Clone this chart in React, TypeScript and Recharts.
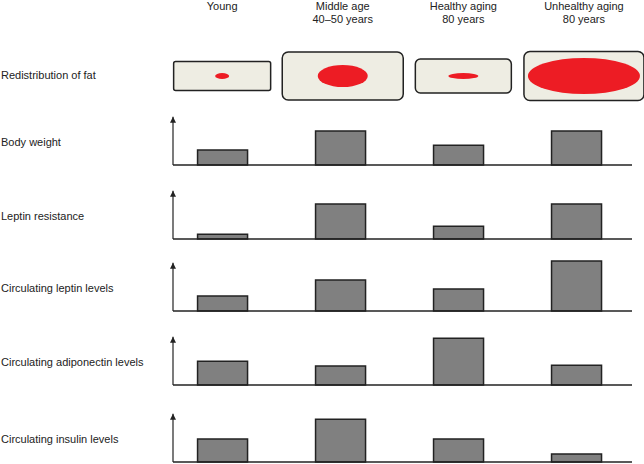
import { BarChart, Bar, XAxis, YAxis, ReferenceLine, ScatterChart, Scatter } from "recharts";

const stages = ["Young", "Middle age\n40–50 years", "Healthy aging\n80 years", "Unhealthy aging\n80 years"];

// fat depot schematic: tissue box and fat ellipse size per stage (arbitrary units)
const tissueWidth = [97, 121, 96, 120];
const tissueHeight = [29, 48, 34, 49];
const fatWidth = [14, 50, 30, 112];
const fatHeight = [6, 22, 6, 36];

const rowLabels = [
  "Body weight",
  "Leptin resistance",
  "Circulating leptin levels",
  "Circulating adiponectin levels",
  "Circulating insulin levels",
];
const bodyWeight = [3.4, 7.7, 4.5, 7.7];
const leptinResistance = [1.1, 7.9, 2.9, 7.9];
const leptinLevels = [3.4, 7.0, 5.0, 11.3];
const adiponectinLevels = [5.4, 4.3, 10.6, 4.5];
const insulinLevels = [5.2, 9.7, 5.2, 1.8];
const rowValues = [bodyWeight, leptinResistance, leptinLevels, adiponectinLevels, insulinLevels];

const ARROW_TOP = 10.9;
const X_MIN = -0.42;
const X_MAX = 3.47;
const rowTops = [106, 180, 252, 326, 403];
const ink = "#222";

const fatData = stages.map((s, i) => ({
  idx: i,
  row: "fat",
  tw: tissueWidth[i],
  th: tissueHeight[i],
  fw: fatWidth[i],
  fh: fatHeight[i],
}));

function FatDepot(props: any) {
  const { cx, cy, payload } = props;
  const r = payload.th > 40 ? 6 : payload.th > 30 ? 5 : 2;
  return (
    <g>
      <rect
        x={cx - payload.tw / 2}
        y={cy - payload.th / 2}
        width={payload.tw}
        height={payload.th}
        rx={r}
        fill="#eeede3"
        stroke={ink}
        strokeWidth={1.5}
      />
      <ellipse cx={cx} cy={cy} rx={payload.fw / 2} ry={payload.fh / 2} fill="#ed1c24" />
    </g>
  );
}

function StageTick({ x, y, payload }: any) {
  const lines = stages[payload.value].split("\n");
  return (
    <text x={x} y={y - 32} textAnchor="middle" fontSize={11} fill={ink}>
      {lines.map((l, i) => (
        <tspan key={i} x={x} dy={i === 0 ? 0 : 13}>
          {l}
        </tspan>
      ))}
    </text>
  );
}

function BarRow({ values }: { values: number[] }) {
  const data = values.map((v, i) => ({ idx: i, value: v }));
  return (
    <BarChart width={473} height={62} data={data} margin={{ top: 6, right: 4, bottom: 3, left: 10 }}>
      <XAxis type="number" dataKey="idx" domain={[X_MIN, X_MAX]} hide />
      <YAxis type="number" domain={[0, 12]} hide />
      <Bar dataKey="value" barSize={50} fill="#808080" stroke={ink} strokeWidth={1.5} isAnimationActive={false} />
      <ReferenceLine y={0} stroke={ink} strokeWidth={1.5} ifOverflow="visible" />
      <ReferenceLine
        segment={[
          { x: X_MIN, y: 0 },
          { x: X_MIN, y: ARROW_TOP },
        ]}
        stroke={ink}
        strokeWidth={1.2}
        ifOverflow="visible"
        markerEnd="url(#arrowhead)"
      />
    </BarChart>
  );
}

export default function App() {
  return (
    <div
      style={{
        position: "absolute",
        left: 0,
        top: 0,
        width: 644,
        height: 464,
        background: "#fff",
        fontFamily: "'Liberation Sans', Arial, sans-serif",
        color: ink,
        overflow: "hidden",
      }}
    >
      <svg width={0} height={0} style={{ position: "absolute" }}>
        <defs>
          <marker
            id="arrowhead"
            viewBox="0 0 10 10"
            refX={10}
            refY={5}
            markerWidth={7}
            markerHeight={6}
            markerUnits="userSpaceOnUse"
            orient="auto"
          >
            <path d="M0,0 L10,5 L0,10 z" fill={ink} />
          </marker>
        </defs>
      </svg>

      <div style={{ position: "absolute", left: 0, top: 0 }}>
        <ScatterChart width={644} height={110} margin={{ top: 0, right: 0, bottom: 0, left: 0 }}>
          <XAxis
            type="number"
            dataKey="idx"
            orientation="top"
            domain={[-1.842, 3.498]}
            ticks={[0, 1, 2, 3]}
            height={42}
            tickSize={0}
            tickMargin={0}
            axisLine={false}
            tickLine={false}
            tick={<StageTick />}
          />
          <YAxis type="category" dataKey="row" allowDuplicatedCategory={false} hide />
          <Scatter data={fatData} shape={<FatDepot />} isAnimationActive={false} />
        </ScatterChart>
      </div>
      <div style={{ position: "absolute", left: 1, top: 69, fontSize: 11, lineHeight: "13px" }}>
        Redistribution of fat
      </div>

      {rowLabels.map((label, i) => (
        <div key={label}>
          <div
            style={{
              position: "absolute",
              left: 1,
              top: rowTops[i] + 30,
              fontSize: 11,
              lineHeight: "13px",
              whiteSpace: "nowrap",
            }}
          >
            {label}
          </div>
          <div style={{ position: "absolute", left: 163, top: rowTops[i] }}>
            <BarRow values={rowValues[i]} />
          </div>
        </div>
      ))}
    </div>
  );
}
